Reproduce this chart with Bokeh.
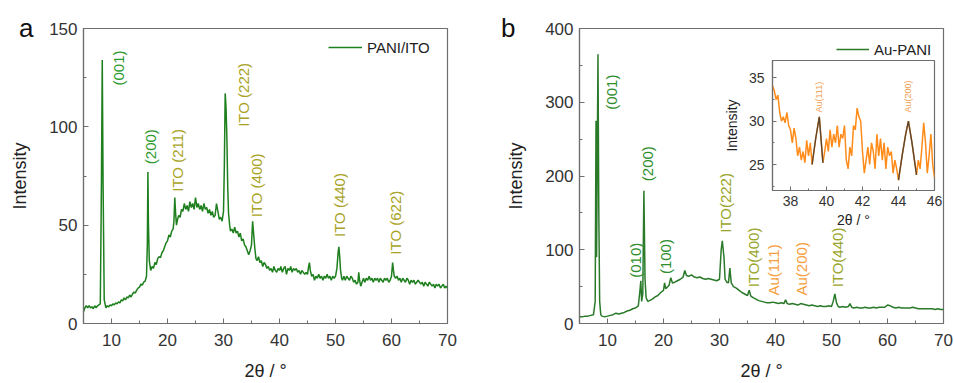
import numpy as np
from bokeh.plotting import figure
from bokeh.layouts import row
from bokeh.models import (SingleIntervalTicker, Legend, LegendItem, ColumnDataSource, Div)
from bokeh.core.properties import value
from bokeh.embed import file_html
from bokeh.resources import INLINE

# ---------------- data: panel a (PANI/ITO) ----------------
a_x = [5.0, 5.25, 5.5, 5.75, 6.0, 6.25, 6.5, 6.75, 7.0, 7.25,
       7.5, 7.75, 8.0, 8.2, 8.35, 8.5, 8.7, 9.0, 9.25, 9.5,
       9.75, 10.0, 10.25, 10.5, 10.75, 11.0, 11.25, 11.5, 11.75, 12.0,
       12.25, 12.5, 12.75, 13.0, 13.25, 13.5, 13.75, 14.0, 14.25, 14.5,
       14.75, 15.0, 15.25, 15.5, 15.75, 16.0, 16.25, 16.4, 16.5, 16.6,
       16.75, 17.0, 17.25, 17.5, 17.75, 18.0, 18.25, 18.5, 18.75, 19.0,
       19.25, 19.5, 19.75, 20.0, 20.25, 20.5, 20.75, 21.0, 21.15, 21.3,
       21.45, 21.6, 21.8, 22.0, 22.25, 22.5, 22.75, 23.0, 23.25, 23.5,
       23.75, 24.0, 24.25, 24.5, 24.75, 25.0, 25.25, 25.5, 25.75, 26.0,
       26.25, 26.5, 26.75, 27.0, 27.25, 27.5, 27.75, 28.0, 28.25, 28.5,
       28.75, 29.0, 29.25, 29.5, 29.75, 30.0, 30.15, 30.3, 30.45, 30.6,
       30.75, 30.9, 31.1, 31.25, 31.5, 31.75, 32.0, 32.25, 32.5, 32.75,
       33.0, 33.25, 33.5, 33.75, 34.0, 34.25, 34.5, 34.75, 35.0, 35.2,
       35.4, 35.6, 35.8, 36.0, 36.25, 36.5, 36.75, 37.0, 37.25, 37.5,
       37.75, 38.0, 38.25, 38.5, 38.75, 39.0, 39.25, 39.5, 39.75, 40.0,
       40.25, 40.5, 40.75, 41.0, 41.25, 41.5, 41.75, 42.0, 42.25, 42.5,
       42.75, 43.0, 43.25, 43.5, 43.75, 44.0, 44.25, 44.5, 44.75, 45.0,
       45.2, 45.35, 45.5, 45.75, 46.0, 46.25, 46.5, 46.75, 47.0, 47.25,
       47.5, 47.75, 48.0, 48.25, 48.5, 48.75, 49.0, 49.25, 49.5, 49.75,
       50.0, 50.25, 50.5, 50.6, 50.75, 50.9, 51.1, 51.25, 51.5, 51.75,
       52.0, 52.25, 52.5, 52.75, 53.0, 53.25, 53.5, 53.75, 54.0, 54.15,
       54.3, 54.5, 54.75, 55.0, 55.25, 55.5, 55.75, 56.0, 56.25, 56.5,
       56.75, 57.0, 57.25, 57.5, 57.75, 58.0, 58.25, 58.5, 58.75, 59.0,
       59.25, 59.5, 59.75, 60.0, 60.2, 60.35, 60.5, 60.75, 61.0, 61.25,
       61.5, 61.75, 62.0, 62.25, 62.5, 62.75, 63.0, 63.25, 63.5, 63.75,
       64.0, 64.25, 64.5, 64.75, 65.0, 65.25, 65.5, 65.75, 66.0, 66.25,
       66.5, 66.75, 67.0, 67.25, 67.5, 67.75, 68.0, 68.25, 68.5, 68.75,
       69.0, 69.25, 69.5, 69.75, 70.0]
a_y = [6, 8, 9, 8, 9, 8, 8.5, 7.5, 9, 8,
       9, 9.5, 10, 70, 134, 70, 12, 8, 9, 8.5,
       9.5, 9, 10, 9.5, 10.5, 10, 11, 10.5, 12, 11.5,
       13, 12, 13.5, 13, 14.5, 13.5, 15, 16, 15.5, 17,
       18, 18.5, 20, 19.5, 21, 21.5, 24, 40, 77, 50,
       32, 27, 29, 28, 31, 30, 33, 34, 33.5, 36,
       37, 39, 41, 42, 45, 44, 47, 48, 52, 64,
       56, 50, 53, 55, 54, 58, 57, 61, 58, 60,
       57, 62, 59, 61, 58, 64, 59, 61, 58, 60,
       57, 61, 58, 59, 56, 58, 55, 57, 54, 55,
       61, 57, 53, 54, 52, 57, 80, 117, 110, 95,
       70, 56, 50, 47, 48, 46, 49, 46, 47, 44,
       46, 42, 43, 40, 39, 37, 35, 37, 40, 52,
       45, 38, 33, 32, 34, 31, 32, 29, 31, 30,
       28, 29, 27, 28, 26, 29, 27, 26, 28, 27,
       29, 26, 28, 29, 25, 28, 27, 29, 26, 28,
       27, 28, 26, 27, 25, 27, 26, 25, 26, 25,
       29, 31, 27, 24, 25, 22, 24, 23, 25, 23,
       24, 22, 24, 23, 25, 23, 24, 22, 24, 23,
       24, 28, 37, 39, 34, 27, 23, 22, 24, 22,
       24, 23, 22, 24, 23, 21, 22, 20, 21, 26,
       22, 19, 21, 23, 21, 23, 22, 24, 22, 23,
       21, 23, 22, 23, 21, 23, 22, 21, 23, 22,
       23, 21, 22, 24, 31, 27, 24, 23, 24, 22,
       23, 21, 23, 22, 21, 23, 22, 20, 22, 21,
       22, 20, 21, 22, 21, 20, 21, 19, 21, 20,
       19, 21, 20, 19, 20, 18, 20, 19, 20, 18,
       19, 20, 18, 19, 18]

# ---------------- data: panel b (Au-PANI) ----------------
b_x = [5.0, 5.5, 6.0, 6.5, 7.0, 7.5, 7.8, 7.95, 8.05, 8.15, 8.3, 8.45, 8.6, 8.8, 9.0, 9.5, 10.0, 10.5,
       11.0, 11.5, 12.0, 12.5, 13.0, 13.5, 14.0, 14.5, 15.0, 15.5, 15.8, 15.95, 16.1, 16.3, 16.5, 16.7,
       16.9, 17.2, 17.5, 18.0, 18.5, 19.0, 19.5, 20.0, 20.2, 20.4, 21.0, 21.3, 21.6, 22.0, 22.5, 23.0,
       23.5, 23.8, 24.1, 24.5, 25.0, 25.5, 26.0, 26.5, 27.0, 27.5, 28.0, 28.5, 29.0, 29.5, 30.0, 30.3,
       30.5, 30.8, 31.0, 31.3, 31.6, 31.85, 32.1, 32.5, 33.0, 33.5, 34.0, 34.5, 35.0, 35.3, 35.6, 36.0,
       36.5, 37.0, 37.5, 38.0, 38.5, 39.0, 39.5, 40.0, 40.5, 41.0, 41.5, 41.8, 42.1, 42.5, 43.0, 43.5,
       44.0, 44.5, 45.0, 45.5, 46.0, 46.5, 47.0, 47.5, 48.0, 48.5, 49.0, 49.5, 50.0, 50.3, 50.6, 50.9,
       51.2, 51.5, 52.0, 52.5, 53.0, 53.3, 53.6, 54.0, 54.5, 55.0, 55.5, 56.0, 56.5, 57.0, 57.5, 58.0,
       58.5, 59.0, 59.5, 60.0, 60.5, 61.0, 61.5, 62.0, 62.5, 63.0, 63.5, 64.0, 64.5, 65.0, 65.5, 66.0,
       66.5, 67.0, 67.5, 68.0, 68.5, 69.0, 69.5, 70.0]
b_y = [9, 9, 10, 10, 11, 12, 30, 275, 90, 200, 365, 150, 30, 12, 10, 9, 10, 11,
       12, 14, 13, 14, 15, 17, 18, 20, 21, 24, 45, 58, 30, 40, 180, 60,
       35, 30, 31, 33, 36, 38, 42, 45, 55, 47, 52, 62, 55, 56, 58, 60,
       63, 72, 65, 64, 66, 63, 62, 63, 61, 60, 61, 60, 59, 58, 60, 100,
       112, 90, 60, 56, 55, 75, 55, 50, 48, 45, 42, 40, 38, 45, 37, 35,
       33, 31, 30, 29, 28, 28, 29, 28, 27, 28, 27, 32, 27, 26, 27, 26,
       25, 27, 26, 25, 24, 25, 24, 23, 24, 23, 23, 24, 23, 30, 40, 28,
       23, 22, 23, 22, 23, 27, 22, 21, 22, 21, 21, 22, 21, 21, 22, 21,
       22, 22, 22, 25, 24, 22, 21, 22, 21, 21, 21, 21, 22, 21, 20, 20,
       20, 20, 20, 20, 19, 20, 19, 19]

# ---------------- data: inset (37-46 deg) ----------------
in_x = [37.0, 37.1, 37.2, 37.3, 37.4, 37.5, 37.6, 37.7, 37.8, 37.9, 38.0, 38.1, 38.2, 38.3, 38.4, 38.5,
        38.6, 38.7, 38.8, 38.9, 39.0, 39.1, 39.2, 39.4, 39.6, 39.8, 39.9, 40.0, 40.1, 40.2, 40.3, 40.4,
        40.5, 40.6, 40.7, 40.8, 40.9, 41.0, 41.1, 41.2, 41.3, 41.4, 41.5, 41.6, 41.7, 41.8, 41.9, 42.0,
        42.1, 42.2, 42.3, 42.4, 42.5, 42.6, 42.7, 42.8, 42.9, 43.0, 43.1, 43.2, 43.3, 43.4, 43.5, 43.6,
        43.7, 43.8, 43.9, 44.0, 44.2, 44.4, 44.55, 44.75, 45.0, 45.1, 45.2, 45.3, 45.4, 45.5, 45.6, 45.7,
        45.8, 45.9, 46.0]
in_y = [34.1, 33.5, 32.5, 33.0, 31.0, 30.0, 30.5, 29.8, 31.0, 29.5, 29.0, 27.5, 29.2, 28.0, 26.0, 27.0,
        25.5, 26.5, 25.2, 27.8, 26.0, 27.5, 25.0, 28.0, 30.5, 25.2, 26.5, 28.0, 26.5, 29.0, 27.0, 28.5,
        27.5, 29.5, 27.0, 28.5, 28.0, 29.5, 25.5, 24.5, 27.0, 26.0, 29.5, 29.0, 31.5, 30.5, 30.0, 26.5,
        24.0, 25.5, 27.0, 25.0, 27.5, 26.5, 24.5, 28.5, 26.0, 28.0, 25.5, 27.5, 24.5, 27.0, 26.0, 26.5,
        24.0, 25.5, 24.5, 23.2, 26.0, 28.5, 30.0, 27.5, 23.8, 25.5, 24.5, 27.0, 29.8, 27.5, 24.0, 26.0,
        28.5, 25.0, 23.5]
pk1_x = [39.2, 39.4, 39.6, 39.8]
pk1_y = [25.0, 28.0, 30.5, 25.2]
pk2_x = [44.0, 44.2, 44.4, 44.55, 44.75, 45.0]
pk2_y = [23.2, 26.0, 28.5, 30.0, 27.5, 23.8]

# ---------------- annotations ----------------
a_lab = ["(001)", "(200)", "ITO (211)", "ITO (222)", "ITO (400)", "ITO (440)", "ITO (622)"]
a_lab_x = [11.2, 17.0, 21.8, 33.6, 35.9, 50.7, 60.7]
a_lab_y = [121, 81, 67, 100, 54, 44, 35]
a_lab_c = ["#2f9a2f", "#2f9a2f", "#a8a326", "#a8a326", "#a8a326", "#a8a326", "#a8a326"]

b_lab = ["(001)", "(200)", "(010)", "(100)", "ITO(222)", "ITO(400)", "Au(111)", "Au(200)", "ITO(440)"]
b_lab_x = [10.8, 17.1, 15.0, 20.4, 31.1, 36.1, 39.7, 44.7, 51.0]
b_lab_y = [290, 193, 62, 67, 123, 49, 38, 38, 49]
b_lab_c = ["#2f8f2f", "#2f8f2f", "#2f8f2f", "#2f8f2f", "#98a52a", "#98a52a", "#f5a040", "#f5a040", "#98a52a"]

in_lab = ["Au(111)", "Au(200)"]
in_lab_x = [39.6, 44.55]
in_lab_y = [31.0, 31.0]

FONT = "Liberation Sans"
AX = "#6e6e6e"


def style(p, xint, yint, tick_size="17px", lab_size="18px", ylab_standoff=16, xlab_standoff=12,
          xtick_standoff=10, ytick_standoff=6, tin=5, mtin=3):
    p.grid.visible = False
    p.outline_line_color = AX
    p.outline_line_width = 1.2
    p.xaxis.ticker = SingleIntervalTicker(interval=xint, num_minor_ticks=2)
    p.yaxis.ticker = SingleIntervalTicker(interval=yint, num_minor_ticks=2)
    for ax in (p.xaxis[0], p.yaxis[0]):
        ax.axis_line_color = AX
        ax.axis_line_width = 1.2
        ax.major_tick_line_color = AX
        ax.minor_tick_line_color = AX
        ax.major_tick_in = tin
        ax.major_tick_out = 0
        ax.minor_tick_in = mtin
        ax.minor_tick_out = 0
        ax.major_label_text_font = FONT
        ax.major_label_text_font_size = tick_size
        ax.major_label_text_color = "#333333"
        ax.axis_label_text_font = FONT
        ax.axis_label_text_font_size = lab_size
        ax.axis_label_text_font_style = "normal"
        ax.axis_label_text_color = "#222222"
    p.xaxis.major_label_standoff = xtick_standoff
    p.yaxis.major_label_standoff = ytick_standoff
    p.xaxis.axis_label_standoff = xlab_standoff
    p.yaxis.axis_label_standoff = ylab_standoff


# ---------------- panel a ----------------
pa = figure(width=477, height=383, x_range=(5, 70), y_range=(0, 150), title=None,
            output_backend="svg", toolbar_location=None,
            min_border_left=83, min_border_right=30, min_border_top=28, min_border_bottom=60)
style(pa, 10, 50)
pa.xaxis.axis_label = "2θ / °"
pa.yaxis.axis_label = "Intensity"
la = pa.line(a_x, a_y, line_color="#1d7f1d", line_width=1.5)
srca = ColumnDataSource(dict(x=a_lab_x, y=a_lab_y, t=a_lab, c=a_lab_c))
pa.text(x="x", y="y", text="t", source=srca, angle=np.pi / 2, text_align="left",
        text_baseline="middle", text_color="c", text_font=value(FONT), text_font_size="15px")
lega = Legend(items=[LegendItem(label="PANI/ITO", renderers=[la])], location=(245, 266),
              glyph_width=34, label_standoff=5, padding=0, margin=0, spacing=0,
              border_line_alpha=0, background_fill_alpha=0,
              label_text_font=FONT, label_text_font_size="15px", label_text_color="#222222")
pa.add_layout(lega)

# ---------------- panel b ----------------
pb = figure(width=476, height=383, x_range=(5, 70), y_range=(0, 400), title=None,
            output_backend="svg", toolbar_location=None,
            min_border_left=102, min_border_right=10, min_border_top=28, min_border_bottom=60)
style(pb, 10, 100)
pb.xaxis.axis_label = "2θ / °"
pb.yaxis.axis_label = "Intensity"
lb = pb.line(b_x, b_y, line_color="#2a7a2a", line_width=1.5)
srcb = ColumnDataSource(dict(x=b_lab_x, y=b_lab_y, t=b_lab, c=b_lab_c))
pb.text(x="x", y="y", text="t", source=srcb, angle=np.pi / 2, text_align="left",
        text_baseline="middle", text_color="c", text_font=value(FONT), text_font_size="15px")
legb = Legend(items=[LegendItem(label="Au-PANI", renderers=[lb])], location=(257, 264),
              glyph_width=33, label_standoff=5, padding=0, margin=0, spacing=0,
              border_line_alpha=0, background_fill_alpha=0,
              label_text_font=FONT, label_text_font_size="15px", label_text_color="#222222")
pb.add_layout(legb)

# ---------------- inset ----------------
pin = figure(frame_width=162, frame_height=130, x_range=(37, 46), y_range=(22, 37), title=None,
             output_backend="svg", toolbar_location=None,
             min_border_left=52, min_border_right=12, min_border_top=28, min_border_bottom=60,
             border_fill_alpha=0,
             styles={"position": "absolute", "left": "720px", "top": "32px"})
style(pin, 2, 5, tick_size="14px", lab_size="14px", ylab_standoff=6, xlab_standoff=3,
      xtick_standoff=5, ytick_standoff=8, tin=4, mtin=2)
pin.xaxis.ticker = SingleIntervalTicker(interval=2, num_minor_ticks=2)
pin.xaxis.axis_label = "2θ / °"
pin.yaxis.axis_label = "Intensity"
pin.line(in_x, in_y, line_color="#ff8c1a", line_width=1.5)
pin.line(pk1_x, pk1_y, line_color="#5b4632", line_width=1.4)
pin.line(pk2_x, pk2_y, line_color="#5b4632", line_width=1.4)
pin.text(x=in_lab_x, y=in_lab_y, text=in_lab, angle=np.pi / 2, text_align="left",
         text_baseline="middle", text_color="#f0a050", text_font=value(FONT), text_font_size="9px")

# ---------------- panel letters ----------------
div_a = Div(text="a", styles={"position": "absolute", "left": "14px", "top": "5px",
                              "font-size": "26px", "font-family": FONT, "color": "#111111"})
div_b = Div(text="b", styles={"position": "absolute", "left": "496px", "top": "5px",
                              "font-size": "26px", "font-family": FONT, "color": "#111111"})

layout = row(pa, pb, pin, div_a, div_b)
open("out.html", "w").write(file_html(layout, INLINE))
